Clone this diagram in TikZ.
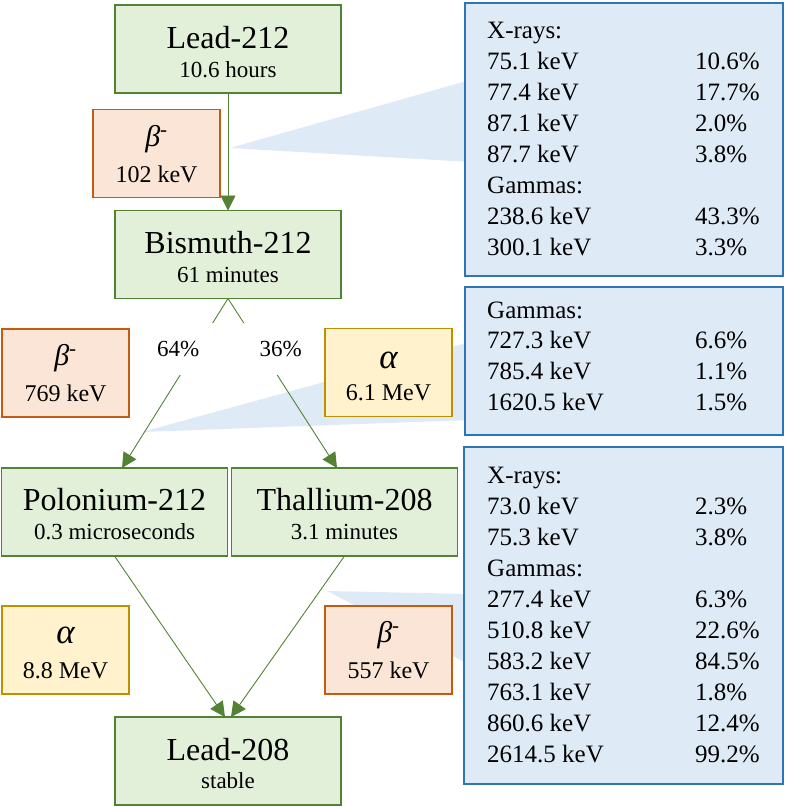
\documentclass[tikz,border=0pt]{standalone}
\usepackage{fontspec}
\setmainfont{Liberation Serif}
\usetikzlibrary{arrows.meta}
\definecolor{gfill}{HTML}{E2F0D9}
\definecolor{gline}{HTML}{548235}
\definecolor{ofill}{HTML}{FBE5D6}
\definecolor{oline}{HTML}{C55A11}
\definecolor{yfill}{HTML}{FFF2CC}
\definecolor{yline}{HTML}{BF9000}
\definecolor{bfill}{HTML}{DEEBF7}
\definecolor{bline}{HTML}{2E75B6}
\begin{document}
\begin{tikzpicture}[x=1pt,y=-1pt,
  box/.style={draw, line width=1.6pt, minimum height=88pt, inner sep=0pt, outer sep=0pt},
  gbox/.style={box, draw=gline, fill=gfill, minimum width=226pt},
  obox/.style={box, draw=oline, fill=ofill, minimum width=127pt},
  ybox/.style={box, draw=yline, fill=yfill, minimum width=127pt},
  bbox/.style={draw=bline, fill=bfill, line width=1.6pt, inner sep=0pt, outer sep=0pt},
  ttl/.style={anchor=base, font=\fontsize{32}{32}\selectfont, inner sep=0pt},
  sub/.style={anchor=base, font=\fontsize{23}{23}\selectfont, inner sep=0pt},
  nrg/.style={anchor=base, font=\fontsize{24}{24}\selectfont, inner sep=0pt},
  greekb/.style={anchor=base, font=\fontsize{30}{30}\selectfont\itshape, inner sep=0pt},
  greeka/.style={anchor=base, font=\fontsize{35}{35}\selectfont\itshape, inner sep=0pt},
  lst/.style={anchor=base west, font=\fontsize{25}{25}\selectfont, inner sep=0pt},
  arr/.style={draw=gline, line width=0.9pt, -{Triangle[length=15pt,width=15pt]}},
  pct/.style={fill=white, font=\fontsize{23}{23}\selectfont, minimum width=76pt, minimum height=52pt, inner sep=0pt}
]
\useasboundingbox (0,0) rectangle (786,807);

% callout wedges
\fill[bfill] (230,148) -- (470,80) -- (470,162) -- cycle;
\fill[bfill] (142,432) -- (470,342) -- (470,420) -- cycle;
\fill[bfill] (327,591) -- (470,594) -- (470,665) -- cycle;

% right info boxes
\node[bbox, minimum width=318pt, minimum height=273pt] (info1) at (624,139.5) {};
\node[bbox, minimum width=318pt, minimum height=148pt] (info2) at (624,361) {};
\node[bbox, minimum width=319pt, minimum height=337pt] (info3) at (623.5,615.5) {};

\foreach \t/\p [count=\i from 0] in {X-rays:/,75.1 keV/10.6\%,77.4 keV/17.7\%,87.1 keV/2.0\%,87.7 keV/3.8\%,Gammas:/,238.6 keV/43.3\%,300.1 keV/3.3\%}{
  \node[lst] (a\i) at (487,38+31*\i) {\t};
  \node[lst] (ap\i) at (695,38+31*\i) {\p};
}
\foreach \t/\p [count=\i from 0] in {Gammas:/,727.3 keV/6.6\%,785.4 keV/1.1\%,1620.5 keV/1.5\%}{
  \node[lst] (b\i) at (487,318+30.7*\i) {\t};
  \node[lst] (bp\i) at (695,318+30.7*\i) {\p};
}
\foreach \t/\p [count=\i from 0] in {X-rays:/,73.0 keV/2.3\%,75.3 keV/3.8\%,Gammas:/,277.4 keV/6.3\%,510.8 keV/22.6\%,583.2 keV/84.5\%,763.1 keV/1.8\%,860.6 keV/12.4\%,2614.5 keV/99.2\%}{
  \node[lst] (c\i) at (487,483+31*\i) {\t};
  \node[lst] (cp\i) at (695,483+31*\i) {\p};
}

% nuclide boxes
\node[gbox] (pb212) at (228,49) {};
\node[gbox] (bi212) at (228,254.5) {};
\node[gbox] (po212) at (114.5,512) {};
\node[gbox] (tl208) at (344.5,512) {};
\node[gbox] (pb208) at (228,761) {};

\node[ttl] (pb212t) at (228,48) {Lead-212};
\node[sub] (pb212s) at (228,77) {10.6 hours};
\node[ttl] (bi212t) at (228,253) {Bismuth-212};
\node[sub] (bi212s) at (228,282) {61 minutes};
\node[ttl] (po212t) at (114.5,510) {Polonium-212};
\node[sub] (po212s) at (114.5,539) {0.3 microseconds};
\node[ttl] (tl208t) at (344.5,510) {Thallium-208};
\node[sub] (tl208s) at (344.5,539) {3.1 minutes};
\node[ttl] (pb208t) at (228,760) {Lead-208};
\node[sub] (pb208s) at (228,788) {stable};

% decay boxes
\node[obox] (b1) at (156.5,153.5) {};
\node[greekb] (b1g) at (156.5,146) {β\textsuperscript{\upshape -}};
\node[nrg] (b1e) at (156.5,182) {102 keV};

\node[obox] (b2) at (65.5,373) {};
\node[greekb] (b2g) at (65.5,365) {β\textsuperscript{\upshape -}};
\node[nrg] (b2e) at (65.5,401) {769 keV};

\node[ybox] (a1) at (388.5,372.5) {};
\node[greeka] (a1g) at (388.5,368) {α};
\node[nrg] (a1e) at (388.5,400) {6.1 MeV};

\node[ybox] (a2) at (65.5,650) {};
\node[greeka] (a2g) at (65.5,643) {α};
\node[nrg] (a2e) at (65.5,678) {8.8 MeV};

\node[obox] (b3) at (388.5,650) {};
\node[greekb] (b3g) at (388.5,642) {β\textsuperscript{\upshape -}};
\node[nrg] (b3e) at (388.5,678) {557 keV};

% connectors
\draw[arr] (pb212.south) -- (bi212.north);
\draw[arr] (bi212.south) -- node[pct, pos=0.3, xshift=-18pt] (p64) {64\%} ([xshift=7.5pt]po212.north);
\draw[arr] (bi212.south) -- node[pct, pos=0.3, xshift=20pt] (p36) {36\%} ([xshift=-7.5pt]tl208.north);
\draw[arr] (po212.south) -- ([xshift=-3pt]pb208.north);
\draw[arr] (tl208.south) -- ([xshift=3pt]pb208.north);
\end{tikzpicture}
\end{document}
